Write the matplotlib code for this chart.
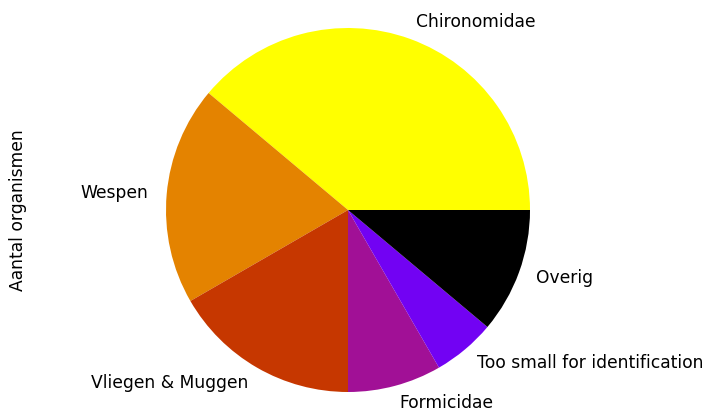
import matplotlib
matplotlib.use("Agg")
import matplotlib.pyplot as plt
import numpy as np

categories = ["Chironomidae", "Wespen", "Vliegen & Muggen", "Formicidae",
              "Too small for identification", "Overig"]
values = [140, 70, 60, 30, 20, 40]

W, H = 705, 416
fig = plt.figure(figsize=(W / 100, H / 100), dpi=100)
cx, cy, r = 348, 210, 182
ax = fig.add_axes([(cx - r) / W, (H - cy - r) / H, 2 * r / W, 2 * r / H])
colors = plt.get_cmap("gnuplot_r")(np.linspace(0, 1, len(values)))
ax.pie(values, labels=categories, colors=colors, textprops={"fontsize": 12.3})
ax.set_xlim(-1, 1)
ax.set_ylim(-1, 1)
ax.set_aspect("equal")
fig.text(18 / W, 1 - 210 / H, "Aantal organismen", rotation=90,
         ha="center", va="center", fontsize=12.3)
fig.savefig("out.png", dpi=100)
